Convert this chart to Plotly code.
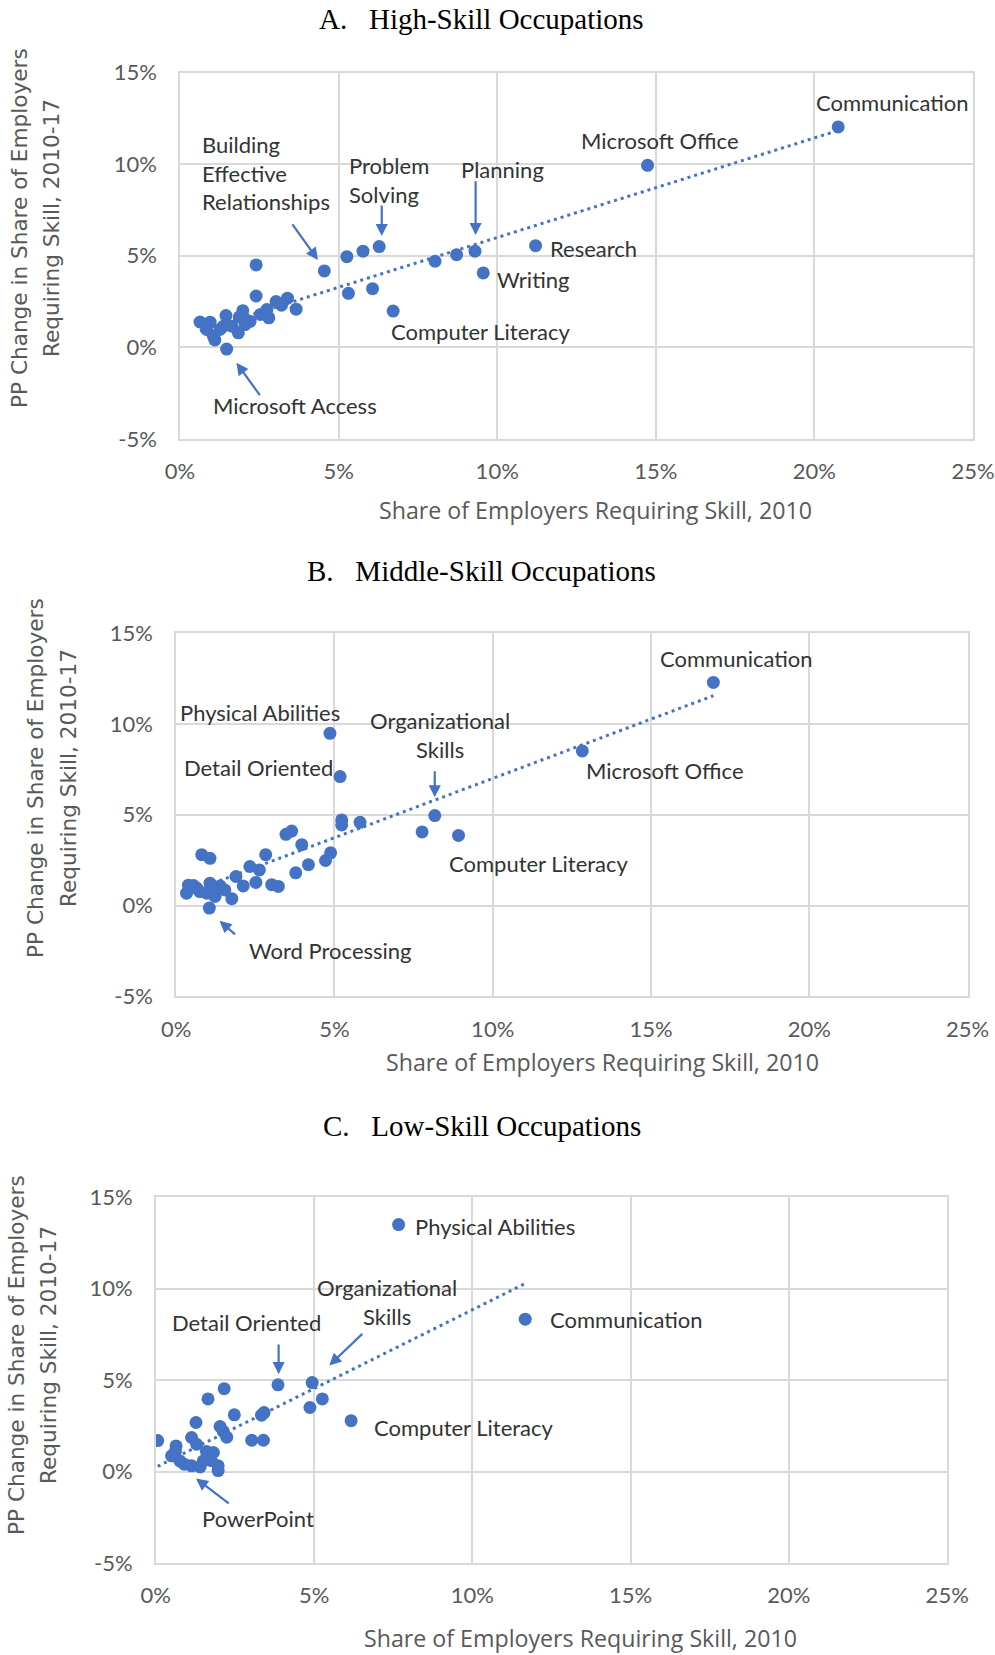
import numpy as np
import plotly.graph_objects as go

# ---------------- DATA (percent units) ----------------
# Panel A: High-Skill Occupations
a_share_2010 = [20.75, 14.74, 11.21, 9.56, 9.30, 8.72, 8.04, 6.28, 5.77, 5.26, 6.07, 5.31,
                6.72, 4.55, 2.40, 2.40, 3.66, 3.39, 3.03, 2.74, 2.80, 2.53, 1.87, 2.05,
                1.84, 1.45, 1.37, 1.05, 0.95, 0.63, 1.26, 0.84, 1.47, 2.21, 1.63, 1.10,
                3.20, 1.98]
a_pp_change = [12.04, 9.94, 5.55, 4.06, 5.25, 5.06, 4.70, 5.50, 5.25, 4.95, 3.20, 2.95,
               1.98, 4.17, 4.50, 2.80, 2.08, 2.68, 2.50, 2.06, 1.61, 1.79, 1.66, 1.24,
               0.79, 1.73, 1.15, 0.61, 1.37, 1.38, 0.97, 0.97, -0.10, 1.42, 1.15, 0.40,
               2.30, 2.00]

# Panel B: Middle-Skill Occupations
b_share_2010 = [16.97, 12.83, 4.86, 5.18, 8.17, 7.77, 8.92, 5.23, 5.23, 5.81, 3.65, 3.47,
                3.97, 4.88, 4.72, 4.18, 3.78, 2.83, 2.33, 2.63, 0.81, 1.07, 1.89, 2.12,
                2.52, 3.02, 3.23, 1.76, 1.05, 0.39, 0.33, 0.65, 1.07, 1.39, 1.54, 0.97,
                1.23, 0.75, 0.55, 1.20]
b_pp_change = [12.28, 8.51, 9.48, 7.10, 4.95, 4.05, 3.86, 4.71, 4.44, 4.58, 4.10, 3.92,
               3.35, 2.90, 2.48, 2.25, 1.80, 2.80, 2.15, 1.96, 2.80, 2.60, 1.60, 1.08,
               1.27, 1.15, 1.05, 0.38, -0.14, 1.12, 0.68, 0.96, 1.23, 1.08, 0.86, 0.68,
               0.50, 0.77, 1.10, 0.95]

# Panel C: Low-Skill Occupations
c_share_2010 = [7.67, 11.67, 6.17, 4.94, 3.86, 5.26, 4.87, 3.34, 3.42, 3.03, 3.40, 2.48,
                2.16, 1.65, 1.27, 2.03, 2.13, 2.24, 0.06, 1.13, 0.64, 1.29, 0.50, 0.76,
                1.13, 1.50, 1.82, 1.97, 1.97, 1.60, 0.90, 1.40, 0.62, 1.75]
c_pp_change = [13.50, 8.33, 2.78, 4.86, 4.74, 3.97, 3.50, 3.08, 3.22, 1.71, 1.71, 3.10,
               4.53, 3.97, 2.68, 2.46, 2.20, 1.88, 1.69, 1.86, 1.40, 1.49, 0.86, 0.58,
               0.31, 0.58, 1.04, 0.31, 0.05, 1.10, 0.40, 0.25, 1.10, 0.60]

panel_titles = ["A.   High-Skill Occupations", "B.   Middle-Skill Occupations", "C.   Low-Skill Occupations"]
x_title = "Share of Employers Requiring Skill, 2010"
y_title_lines = ["PP Change in Share of Employers", "Requiring Skill, 2010-17"]
x_tick_vals = [0, 5, 10, 15, 20, 25]
x_tick_text = ["0%", "5%", "10%", "15%", "20%", "25%"]
y_tick_vals = [-5, 0, 5, 10, 15]
y_tick_text = ["-5%", "0%", "5%", "10%", "15%"]

# labels: (text, x, y) ; arrows: (tail x, tail y, head x, head y)
a_labels = [("Communication", 19.99, 13.36), ("Microsoft Office", 12.57, 11.28),
            ("Building<br>Effective<br>Relationships", 0.64, 9.50),
            ("Problem<br>Solving", 5.25, 9.12), ("Planning", 8.80, 9.72),
            ("Research", 11.61, 5.38), ("Writing", 9.92, 3.72),
            ("Computer Literacy", 6.60, 0.85), ("Microsoft Access", 0.98, -3.17)]
a_arrows = [(3.51, 6.79, 4.35, 4.77), (6.36, 7.83, 6.36, 6.08), (9.32, 9.15, 9.32, 6.13),
            (2.55, -2.70, 1.78, -0.85)]
b_labels = [("Communication", 15.22, 13.61), ("Physical Abilities", 0.06, 10.62),
            ("Organizational<br>Skills", 8.35, 9.37, "center"), ("Detail Oriented", 0.20, 7.61),
            ("Microsoft Office", 12.87, 7.42), ("Computer Literacy", 8.55, 2.30),
            ("Word Processing", 2.23, -2.46)]
b_arrows = [(8.17, 7.48, 8.17, 5.96), (1.91, -1.66, 1.37, -0.84)]
c_labels = [("Physical Abilities", 8.13, 13.40), ("Organizational<br>Skills", 7.30, 9.27, "center"),
            ("Detail Oriented", 0.44, 8.14), ("Communication", 12.39, 8.33),
            ("Computer Literacy", 6.83, 2.43), ("PowerPoint", 1.41, -2.57)]
c_arrows = [(3.88, 7.03, 3.88, 5.32), (6.57, 7.60, 5.48, 5.80), (2.35, -1.81, 1.27, -0.38)]

# ---------------- LAYOUT (pixel geometry of the page) ----------------
W, H = 995, 1655
BLUE = "#4472C4"
GRID = "#D9D9D9"
TICK_COLOR = "#595959"
LABEL_FONT = "Lato"


def px(x):
    return x / W


def py(y):
    return 1 - y / H


panels = [
    dict(xs=a_share_2010, ys=a_pp_change, labels=a_labels, arrows=a_arrows,
         box=(180, 72.7, 973, 438.8), title=(481, 19), xtitle=(595, 510), ytitle=(19, 51, 228)),
    dict(xs=b_share_2010, ys=b_pp_change, labels=b_labels, arrows=b_arrows,
         box=(176.1, 633.0, 967.6, 996.4), title=(481.5, 571), xtitle=(602, 1062), ytitle=(36, 69, 778)),
    dict(xs=c_share_2010, ys=c_pp_change, labels=c_labels, arrows=c_arrows,
         box=(155.8, 1197.1, 947.2, 1563.0), title=(481.5, 1126), xtitle=(580, 1638), ytitle=(16, 48, 1355)),
]

fig = go.Figure()
annotations = []

for i, p in enumerate(panels):
    n = "" if i == 0 else str(i + 1)
    xa, ya = "x" + n, "y" + n
    xs = np.array(p["xs"], dtype=float)
    ys = np.array(p["ys"], dtype=float)

    # linear trendline (OLS fit of the data, like Excel's)
    slope, intercept = np.polyfit(xs, ys, 1)
    tx = np.array([xs.min(), xs.max()])
    fig.add_trace(go.Scatter(x=tx, y=intercept + slope * tx, mode="lines",
                             line=dict(color=BLUE, width=3, dash="3px,4px"),
                             xaxis=xa, yaxis=ya, showlegend=False, hoverinfo="skip"))
    fig.add_trace(go.Scatter(x=xs, y=ys, mode="markers",
                             marker=dict(color=BLUE, size=13, line=dict(width=0)),
                             xaxis=xa, yaxis=ya, showlegend=False))

    x0, y0, x1, y1 = p["box"]
    axis_common = dict(showgrid=True, gridcolor=GRID, gridwidth=1.5, zeroline=False,
                       showline=True, linecolor=GRID, linewidth=1.5, mirror=True,
                       ticks="", tickfont=dict(family=LABEL_FONT, size=22, color=TICK_COLOR),
                       fixedrange=True, automargin=False)
    fig.update_layout(**{
        "xaxis" + n: dict(domain=[px(x0), px(x1)], range=[0, 25], tickvals=x_tick_vals,
                          ticktext=x_tick_text, anchor=ya, ticklabelstandoff=12, **axis_common),
        "yaxis" + n: dict(domain=[py(y1), py(y0)], range=[-5, 15], tickvals=y_tick_vals,
                          ticktext=y_tick_text, anchor=xa, ticklabelstandoff=17, **axis_common),
    })

    # data labels
    for lab in p["labels"]:
        text, lx, ly = lab[0], lab[1], lab[2]
        align = lab[3] if len(lab) > 3 else "left"
        annotations.append(dict(text=text, x=lx, y=ly, xref=xa, yref=ya, showarrow=False,
                                xanchor="center" if align == "center" else "left",
                                yanchor="middle", align=align,
                                font=dict(family=LABEL_FONT, size=22, color="#333333")))
    # arrows
    for (tx0, ty0, hx, hy) in p["arrows"]:
        annotations.append(dict(text="", x=hx, y=hy, ax=tx0, ay=ty0, xref=xa, yref=ya,
                                axref=xa, ayref=ya, showarrow=True, arrowhead=2,
                                arrowsize=1.1, arrowwidth=2.2, arrowcolor=BLUE, standoff=0))

    # panel title
    tx_, ty_ = p["title"]
    annotations.append(dict(text=panel_titles[i], x=px(tx_), y=py(ty_), xref="paper", yref="paper",
                            showarrow=False, xanchor="center", yanchor="middle",
                            font=dict(family="Liberation Serif", size=29, color="#000000")))
    # x-axis title
    xx, xy = p["xtitle"]
    annotations.append(dict(text=x_title, x=px(xx), y=py(xy), xref="paper", yref="paper",
                            showarrow=False, xanchor="center", yanchor="middle",
                            font=dict(family="Open Sans", size=23.2, color=TICK_COLOR)))
    # y-axis title (two rotated lines)
    l1x, l2x, cy = p["ytitle"]
    for txt, lxx in zip(y_title_lines, (l1x, l2x)):
        annotations.append(dict(text=txt, x=px(lxx), y=py(cy), xref="paper", yref="paper",
                                showarrow=False, xanchor="center", yanchor="middle", textangle=-90,
                                font=dict(family="DejaVu Sans", size=21.6, color=TICK_COLOR)))

fig.update_layout(template="none", width=W, height=H, margin=dict(l=0, r=0, t=0, b=0, autoexpand=False),
                  paper_bgcolor="white", plot_bgcolor="white",
                  annotations=annotations, showlegend=False)

# remove the browser's default 8px body margin so the figure fills the window exactly
fig.write_html("out.html", config={"displayModeBar": False},
               post_script="document.body.style.margin='0';document.body.style.overflow='hidden';")
